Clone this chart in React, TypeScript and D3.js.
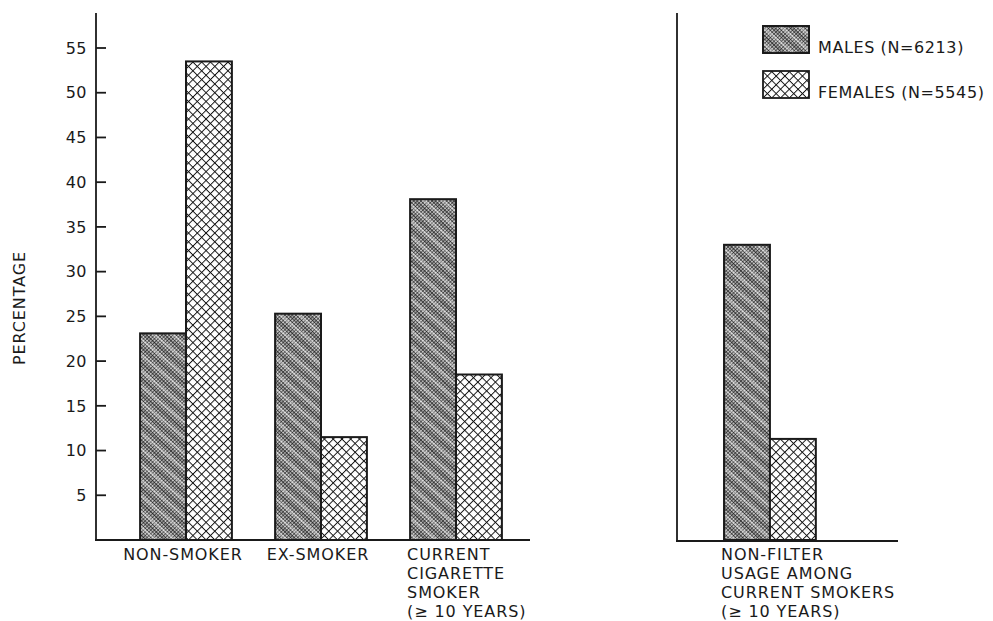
import React from 'react';
import * as d3 from 'd3';

// ---- data ----
const categories = ['NON-SMOKER', 'EX-SMOKER', 'CURRENT'];
const categoryLines: string[][] = [
  ['NON-SMOKER'],
  ['EX-SMOKER'],
  ['CURRENT', 'CIGARETTE', 'SMOKER', '(≥ 10 YEARS)'],
];
const maleValues = [23.1, 25.3, 38.1];
const femaleValues = [53.5, 11.5, 18.5];

const nfCategories = ['NON-FILTER'];
const nfCategoryLines: string[][] = [['NON-FILTER', 'USAGE AMONG', 'CURRENT SMOKERS', '(≥ 10 YEARS)']];
const nfMaleValues = [33.0];
const nfFemaleValues = [11.3];

const yTicks = [5, 10, 15, 20, 25, 30, 35, 40, 45, 50, 55];
const seriesNames = ['MALES (N=6213)', 'FEMALES (N=5545)'];
const yTitle = 'PERCENTAGE';

const W = 993;
const H = 621;
const FONT = '"DejaVu Sans", sans-serif';
const INK = '#1a1a1a';

export default function App() {
  const y = d3.scaleLinear().domain([0, 55]).range([540, 48]);
  const xL = d3.scaleBand<string>().domain(categories).range([118.5, 523.5]).paddingInner(0.32).paddingOuter(0.16);
  const xR = d3.scaleBand<string>().domain(nfCategories).range([702.4, 837.6]).paddingInner(0.32).paddingOuter(0.16);
  const sub = d3.scaleBand<string>().domain(['m', 'f']).range([0, xL.bandwidth()]);

  const renderGroup = (x: d3.ScaleBand<string>, cats: string[], males: number[], females: number[], lines: string[][]) =>
    cats.map((c, i) => {
      const x0 = x(c) as number;
      const bw = sub.bandwidth();
      const single = lines[i].length === 1;
      return (
        <g key={c}>
          <rect x={x0 + (sub('m') as number)} y={y(males[i])} width={bw} height={y(0) - y(males[i])}
            fill="url(#malePat)" stroke="none" />
          <rect x={x0 + (sub('m') as number)} y={y(males[i])} width={bw} height={y(0) - y(males[i])}
            fill="url(#maleStreak)" stroke={INK} strokeWidth={2} />
          <rect x={x0 + (sub('f') as number)} y={y(females[i])} width={bw} height={y(0) - y(females[i])}
            fill="url(#femalePat)" stroke={INK} strokeWidth={2} />
          {lines[i].map((t, k) => (
            <text key={k}
              x={single ? x0 + x.bandwidth() / 2 - 3 : x0 - 3}
              y={560 + k * 19}
              textAnchor={single ? 'middle' : 'start'}
              fontSize={16} letterSpacing={0.9} fill={INK} fontFamily={FONT}>{t}</text>
          ))}
        </g>
      );
    });

  return (
    <svg width={W} height={H} style={{ position: 'absolute', left: 0, top: 0, display: 'block', background: '#fff' }}>
      <defs>
        <pattern id="malePat" width={2.6} height={2.6} patternUnits="userSpaceOnUse" patternTransform="rotate(45)">
          <rect width={2.6} height={2.6} fill="#c8c8c8" />
          <line x1={0} y1={0} x2={2.6} y2={0} stroke="#111" strokeWidth={1.1} />
          <line x1={0} y1={0} x2={0} y2={2.6} stroke="#111" strokeWidth={1.1} />
        </pattern>
        <pattern id="maleStreak" width={12} height={12} patternUnits="userSpaceOnUse" patternTransform="rotate(40)">
          <rect x={0} y={0} width={12} height={2.2} fill="#fff" opacity={0.4} />
          <rect x={0} y={6} width={12} height={2.4} fill="#000" opacity={0.22} />
        </pattern>
        <pattern id="femalePat" width={6.2} height={6.2} patternUnits="userSpaceOnUse" patternTransform="rotate(45)">
          <rect width={6.2} height={6.2} fill="#fff" />
          <line x1={0} y1={0} x2={6.2} y2={0} stroke="#111" strokeWidth={1.9} />
          <line x1={0} y1={0} x2={0} y2={6.2} stroke="#111" strokeWidth={1.9} />
        </pattern>
      </defs>

      {/* left panel axes */}
      <line x1={96} y1={13} x2={96} y2={y(0)} stroke={INK} strokeWidth={1.8} />
      <line x1={95} y1={y(0)} x2={530} y2={y(0)} stroke={INK} strokeWidth={1.8} />
      {yTicks.map(t => (
        <g key={t}>
          <line x1={96} y1={y(t)} x2={106} y2={y(t)} stroke={INK} strokeWidth={1.8} />
          <text x={87} y={y(t)} dy="0.36em" textAnchor="end" fontSize={16} letterSpacing={0.5}
            fill={INK} fontFamily={FONT}>{t}</text>
        </g>
      ))}
      <text transform={`translate(25,308) rotate(-90)`} textAnchor="middle" fontSize={16} letterSpacing={0.9}
        fill={INK} fontFamily={FONT}>{yTitle}</text>

      {renderGroup(xL, categories, maleValues, femaleValues, categoryLines)}

      {/* right panel */}
      <line x1={677} y1={13} x2={677} y2={y(0) + 1} stroke={INK} strokeWidth={1.8} />
      <line x1={676} y1={y(0) + 1} x2={898} y2={y(0) + 1} stroke={INK} strokeWidth={1.8} />
      {renderGroup(xR, nfCategories, nfMaleValues, nfFemaleValues, nfCategoryLines)}

      {/* legend */}
      {seriesNames.map((s, i) => (
        <g key={s} transform={`translate(763,${26 + i * 45})`}>
          <rect width={46} height={27} fill={i === 0 ? 'url(#malePat)' : 'url(#femalePat)'} stroke={INK} strokeWidth={1.8} />
          {i === 0 && <rect width={46} height={27} fill="url(#maleStreak)" stroke={INK} strokeWidth={1.8} />}
          <text x={55} y={27} fontSize={16} letterSpacing={0.6} fill={INK} fontFamily={FONT}>{s}</text>
        </g>
      ))}
    </svg>
  );
}
